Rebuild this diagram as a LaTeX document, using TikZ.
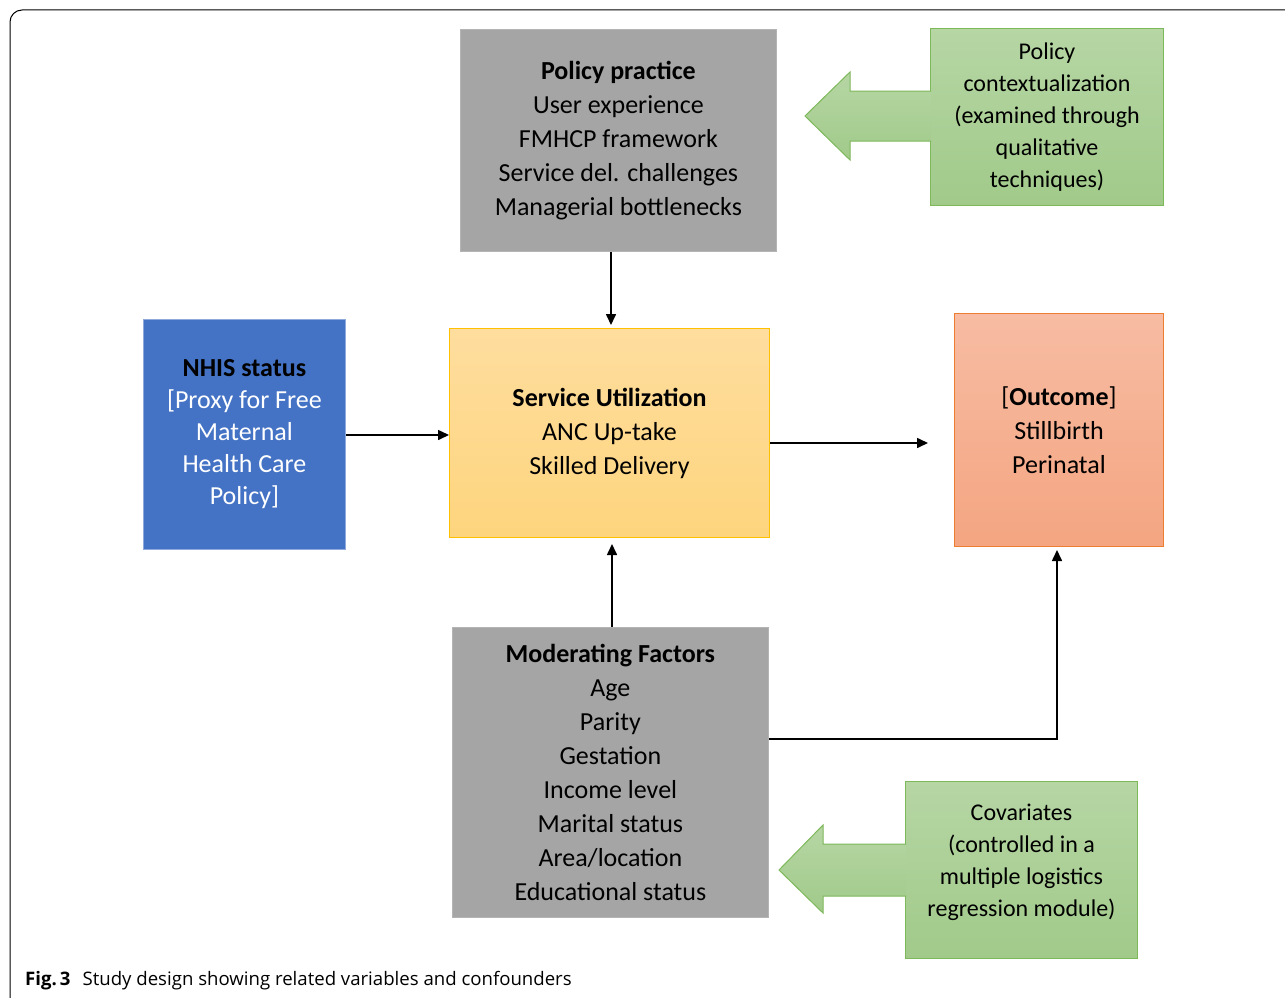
\documentclass[tikz,border=0pt]{standalone}
\usepackage{fontspec}
\setmainfont{Carlito}
\newfontfamily\capfont{Open Sans}
\usetikzlibrary{arrows.meta}
\definecolor{boxgray}{HTML}{A5A5A5}
\definecolor{grayedge}{HTML}{B4B4B4}
\definecolor{nhisblue}{HTML}{4472C4}
\definecolor{nhisedge}{HTML}{8EA9DB}
\definecolor{greentop}{HTML}{B6D6A4}
\definecolor{greenbot}{HTML}{A1CA8A}
\definecolor{greenedge}{HTML}{7DB85A}
\definecolor{yeltop}{HTML}{FEDD9E}
\definecolor{yelbot}{HTML}{FED57E}
\definecolor{yeledge}{HTML}{FFC000}
\definecolor{orgtop}{HTML}{F7BCA3}
\definecolor{orgbot}{HTML}{F4A581}
\definecolor{orgedge}{HTML}{ED7D31}
\begin{document}
\begin{tikzpicture}[x=1pt,y=-1pt,
  font=\fontsize{26}{34}\selectfont,
  box/.style={rectangle, align=center, inner sep=0pt, anchor=north west},
  graybox/.style={box, fill=boxgray, draw=grayedge, line width=0.8pt},
  greenbox/.style={box, top color=greentop, bottom color=greenbot, draw=greenedge, line width=1pt},
  greenarrow/.style={top color=greentop, bottom color=greenbot, draw=greenedge, line width=1pt},
  conn/.style={line width=1.6pt, -{Triangle[length=11pt,width=10pt]}}]
\useasboundingbox (0,0) rectangle (1285,998);
% frame
\draw[line width=1pt, rounded corners=12pt] (10,1010) -- (10,10) -- (1300,10);

% boxes
\node[graybox, minimum width=316pt, minimum height=222pt] (pp) at (460,29)
  {\textbf{Policy practice}\\User experience\\FMHCP framework\\Service del. challenges\\Managerial bottlenecks};

\node[greenbox, minimum width=233pt, minimum height=177pt, font=\fontsize{24}{32}\selectfont] (pc) at (930,28)
  {Policy\\contextualization\\(examined through\\qualitative\\techniques)};

\node[box, fill=nhisblue, draw=nhisedge, line width=0.8pt, minimum width=202pt, minimum height=230pt,
  text=white, font=\fontsize{26}{32}\selectfont] (nh) at (143,319)
  {\textcolor{black}{\textbf{NHIS status}}\\{[}Proxy for Free\\Maternal\\Health Care\\Policy{]}};

\node[box, top color=yeltop, bottom color=yelbot, draw=yeledge, line width=1pt,
  minimum width=320pt, minimum height=209pt] (su) at (449,328)
  {\textbf{Service Utilization}\\ANC Up-take\\Skilled Delivery};

\node[box, top color=orgtop, bottom color=orgbot, draw=orgedge, line width=1pt,
  minimum width=209pt, minimum height=233pt] (oc) at (954,313)
  {[\textbf{Outcome}]\\Stillbirth\\Perinatal};

\node[graybox, minimum width=316pt, minimum height=290pt] (mf) at (452,627)
  {\textbf{Moderating Factors}\\Age\\Parity\\Gestation\\Income level\\Marital status\\Area/location\\Educational status};

\node[greenbox, minimum width=232pt, minimum height=177pt, font=\fontsize{24}{32}\selectfont] (cv) at (905,781)
  {Covariates\\(controlled in a\\multiple logistics\\regression module)\\[-12pt]};

% block arrows
\path[greenarrow] (931,91) -- (850,91) -- (850,72) -- (805,116) -- (850,160) -- (850,141) -- (931,141);
\path[greenarrow] (906,844) -- (823,844) -- (823,825) -- (779,870) -- (823,913) -- (823,896) -- (906,896);

% connector helpers
\coordinate (xa) at (611,0);
\coordinate (xb) at (612,0);
\coordinate (ya) at (0,435);
\coordinate (yb) at (0,443);
\coordinate (yc) at (0,739);
\coordinate (xc) at (1057,0);
\coordinate (oend) at (928,443);

\draw[conn, shorten >=3pt] (pp.south -| xa) -- (su.north -| xa);
\draw[conn] (nh.east |- ya) -- (su.west |- ya);
\draw[conn] (su.east |- yb) -- (oend);
\draw[conn, shorten >=6pt] (mf.north -| xb) -- (su.south -| xb);
\draw[conn, shorten >=3pt] (mf.east |- yc) -| (oc.south -| xc);

% caption
\node[anchor=base west, inner sep=0pt, font=\capfont\fontsize{18.6}{22}\selectfont] (cap) at (25,985)
  {\textbf{Fig.\,3}\hspace{12pt}Study design showing related variables and confounders};
\end{tikzpicture}
\end{document}
